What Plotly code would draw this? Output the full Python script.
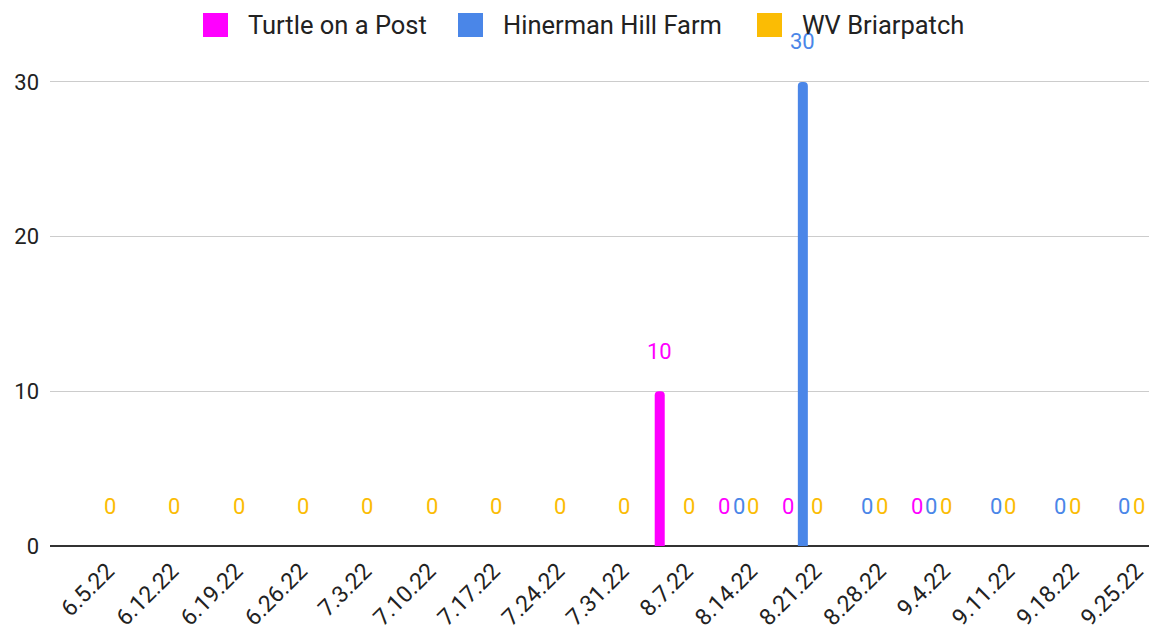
import plotly.graph_objects as go

categories = ["6.5.22", "6.12.22", "6.19.22", "6.26.22", "7.3.22", "7.10.22", "7.17.22",
              "7.24.22", "7.31.22", "8.7.22", "8.14.22", "8.21.22", "8.28.22", "9.4.22",
              "9.11.22", "9.18.22", "9.25.22"]
series_names = ["Turtle on a Post", "Hinerman Hill Farm", "WV Briarpatch"]
turtle = [None, None, None, None, None, None, None, None, None, 10, 0, 0, None, 0, None, None, None]
hinerman = [None, None, None, None, None, None, None, None, None, None, 0, 30, 0, 0, 0, 0, 0]
briarpatch = [0, 0, 0, 0, 0, 0, 0, 0, 0, 0, 0, 0, 0, 0, 0, 0, 0]
y_ticks = [0, 10, 20, 30]

colors = ["#ff00ff", "#4a86e8", "#fbbc04"]
series_values = [turtle, hinerman, briarpatch]

# page body has an 8px margin; size the figure so it fits the 1157x637 window
OFF = 8
W, H = 1157 - OFF, 637 - OFF
ML, MR, MT, MB = 50 - OFF, 5, 60 - OFF, 91
FONT = "Roboto"

fig = go.Figure()
for name, vals, col in zip(series_names, series_values, colors):
    fig.add_trace(go.Bar(
        x=categories, y=vals, name=name,
        marker=dict(color=col, cornerradius=4, line=dict(width=0)),
        showlegend=False, hoverinfo="x+y+name",
    ))

# data labels above bars
slot_px = 14.5
annotations = []
for k, (vals, col) in enumerate(zip(series_values, colors)):
    for cat, v in zip(categories, vals):
        if v is None:
            continue
        annotations.append(dict(
            x=cat, y=v, xref="x", yref="y", text=str(v), showarrow=False,
            xshift=(k - 1) * slot_px, yshift=40, yanchor="middle",
            font=dict(family=FONT, size=22, color=col),
        ))

# manual legend (larger swatches); positions given in window pixels
pw = W - ML - MR
ph = H - MT - MB
def px_to_paper_x(px):
    return (px - OFF - ML) / pw
def px_to_paper_y(py):
    return (H - MB - (py - OFF)) / ph

legend_sq_x = [203, 458, 757]
shapes = []
for sx, name, col in zip(legend_sq_x, series_names, colors):
    shapes.append(dict(
        type="rect", xref="paper", yref="paper",
        x0=px_to_paper_x(sx), x1=px_to_paper_x(sx + 25),
        y0=px_to_paper_y(37), y1=px_to_paper_y(13),
        fillcolor=col, line=dict(width=0), layer="above",
    ))
    annotations.append(dict(
        x=px_to_paper_x(sx + 43), y=px_to_paper_y(25), xref="paper", yref="paper",
        text=name, showarrow=False, xanchor="left", yanchor="middle",
        font=dict(family=FONT, size=25.5, color="#222222"),
    ))

fig.update_layout(
    width=W, height=H,
    margin=dict(l=ML, r=MR, t=MT, b=MB, autoexpand=False),
    paper_bgcolor="white", plot_bgcolor="white",
    barmode="group", bargap=0.323, bargroupgap=0.31,
    showlegend=False,
    annotations=annotations, shapes=shapes,
    font=dict(family=FONT, size=22, color="#222222"),
)
fig.update_xaxes(
    type="category", range=[-0.708, 16.43],
    tickangle=-45, tickfont=dict(family=FONT, size=23, color="#222222"),
    ticklabelshift=12, ticklabelstandoff=6,
    showgrid=False, showline=False, ticks="",
)
fig.update_yaxes(
    range=[0, 31.42], tickvals=y_ticks, ticktext=[str(t) for t in y_ticks],
    showgrid=True, gridcolor="#cccccc", gridwidth=1,
    zeroline=True, zerolinecolor="#333333", zerolinewidth=2,
    tickfont=dict(family=FONT, size=22, color="#222222"),
    ticklabelstandoff=10, ticks="", showline=False,
)

fig.write_html("out.html")
